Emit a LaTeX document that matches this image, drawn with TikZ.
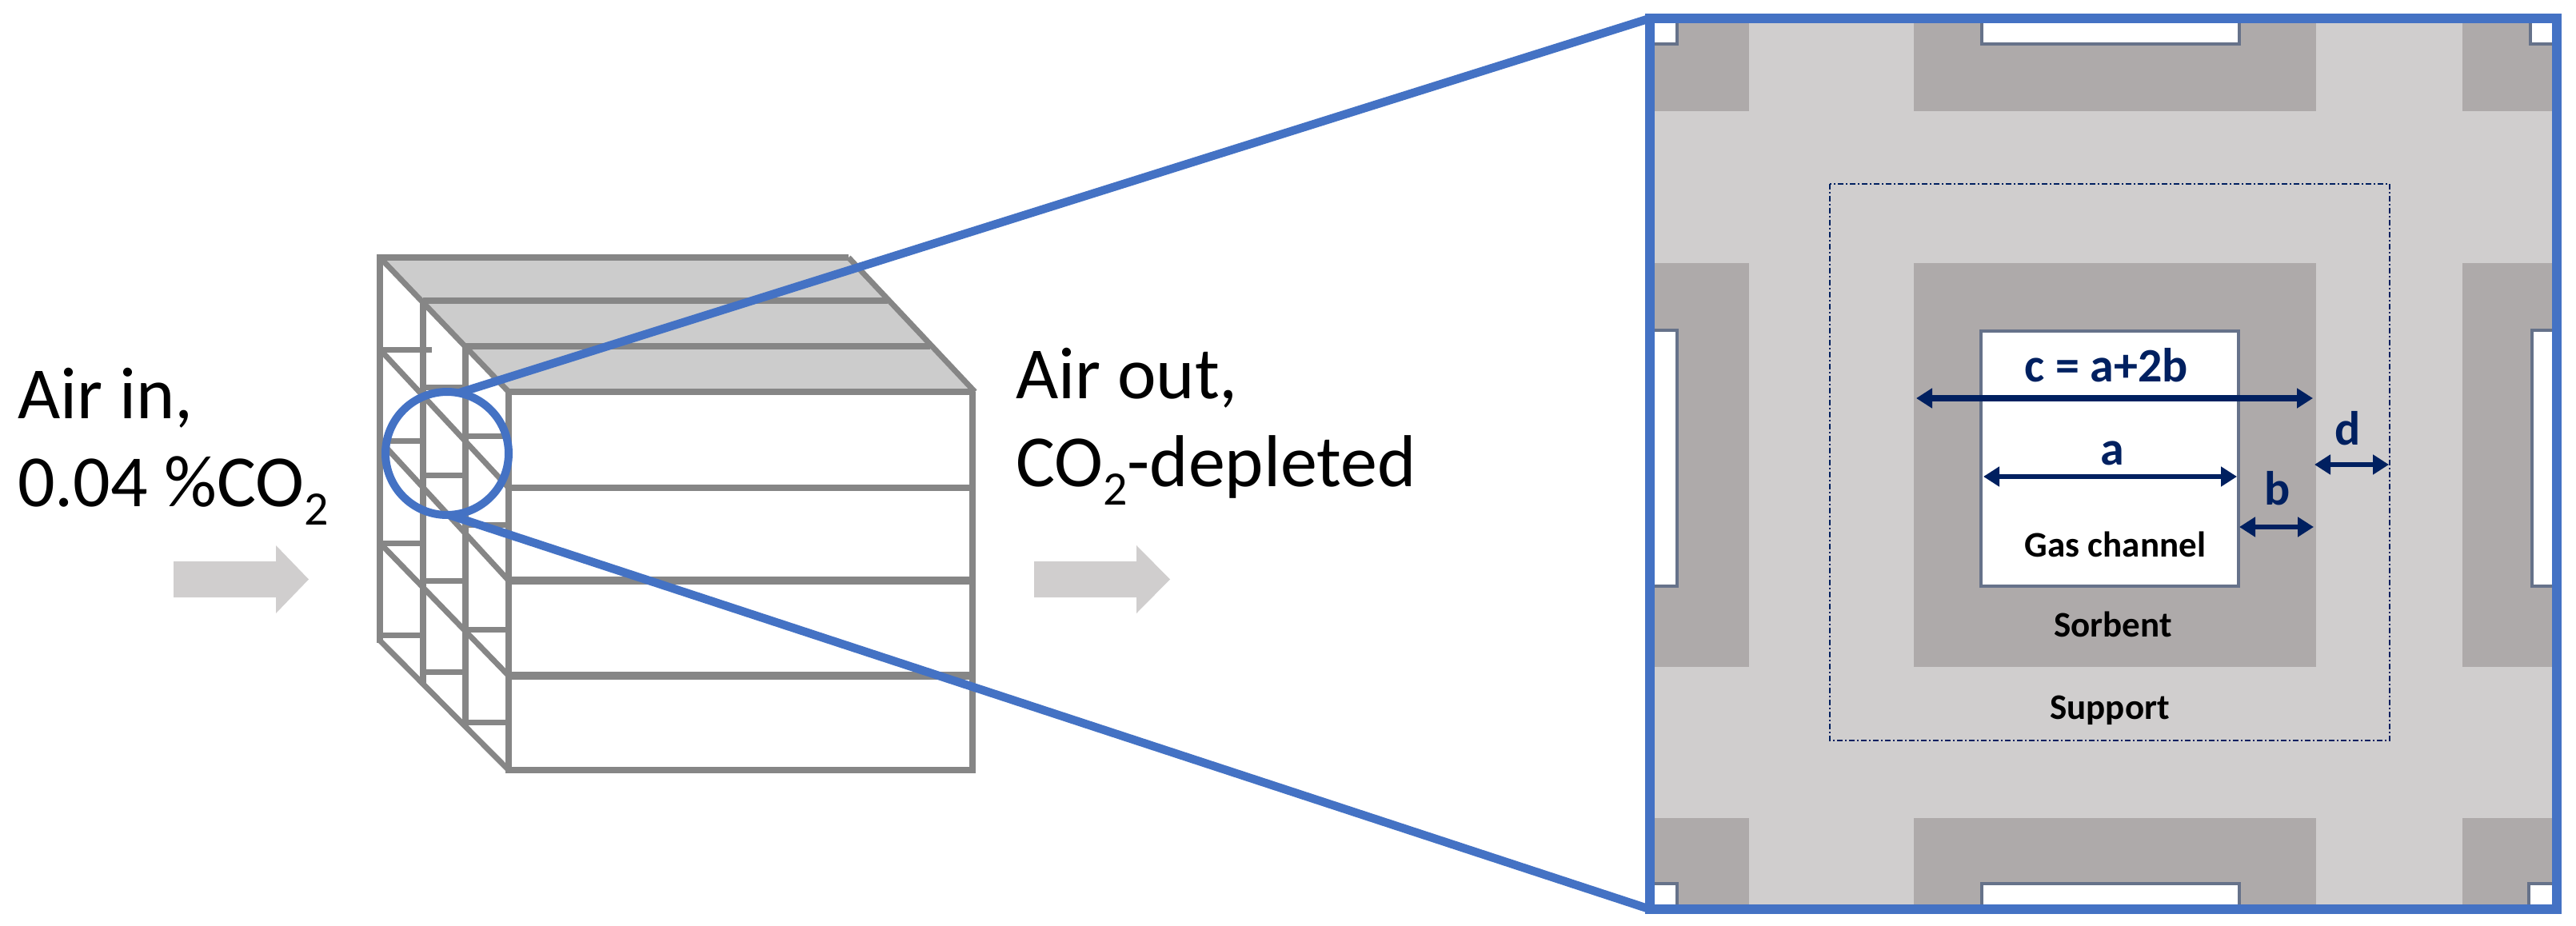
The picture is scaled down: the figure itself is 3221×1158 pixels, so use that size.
\documentclass[tikz,border=0pt]{standalone}
\usepackage{fontspec}
\setmainfont{Carlito}
\usetikzlibrary{arrows.meta,calc}
\definecolor{support}{HTML}{D0CECE}
\definecolor{sorbent}{HTML}{AEAAAA}
\definecolor{zoomblue}{HTML}{4472C4}
\definecolor{dimblue}{HTML}{002060}
\definecolor{cubeline}{HTML}{868686}
\definecolor{cubetop}{HTML}{CCCCCC}
\definecolor{chanedge}{HTML}{66728A}
\newcommand\bigsub{\raisebox{-23pt}{\fontsize{60}{60}\selectfont 2}}
\tikzset{
  big/.style={inner sep=0,outer sep=0,anchor=base west,font=\fontsize{92}{92}\selectfont,text=black},
  dimtxt/.style={inner sep=0,outer sep=0,anchor=base,font=\fontsize{60}{60}\selectfont\bfseries,text=dimblue},
  regtxt/.style={inner sep=0,outer sep=0,anchor=base,font=\fontsize{45}{45}\selectfont\bfseries,text=black},
  cube/.style={draw=cubeline,line width=8pt,line cap=butt,line join=miter},
  cubethin/.style={draw=cubeline,line width=7pt},
  sorb/.style={fill=sorbent,draw=none},
  chan/.style={fill=white,draw=chanedge,line width=4pt},
  dim/.style={draw=dimblue,{Triangle[length=20pt,width=24pt]}-{Triangle[length=20pt,width=24pt]}},
  flow/.style={fill=support,draw=none},
  zoomline/.style={draw=zoomblue,line width=10.5pt},
}
\begin{document}
\begin{tikzpicture}[x=1pt,y=-1pt]
\useasboundingbox (0,0) rectangle (3221,1158);
% ---- cube top faces
\fill[cubetop] (475,322) -- (1061,322) -- (1219,490) -- (636,490) -- cycle;
% cube long horizontals
\draw[cube] (471,322) -- (1061,322);
\draw[cube] (529,376) -- (1110,376);
\draw[cube] (582,433) -- (1163,433);
\draw[cube] (636,490) -- (1219,490);
\draw[cube] (636,610) -- (1216,610);
\draw[cube,line width=10pt] (636,726) -- (1216,726);
\draw[cube,line width=10pt] (636,845) -- (1216,845);
\draw[cube] (636,963) -- (1220,963);
% right side
\draw[cube] (1216,490) -- (1216,967);
\draw[cubethin] (1061,322) -- (1219,490);
% verticals
\draw[cube] (475,319) -- (475,804);
\draw[cube] (529,376) -- (529,857);
\draw[cube] (582,433) -- (582,910);
\draw[cube] (636,490) -- (636,967);
% diagonals
\draw[cubethin] (475,322) -- (636,490);
\draw[cubethin] (475,437) -- (636,610);
\draw[cubethin] (475,551) -- (636,726);
\draw[cubethin] (475,679) -- (636,845);
\draw[cubethin] (475,801) -- (636,963);
% short cell lines
\draw[cubethin] (472,437) -- (540,437);
\draw[cubethin] (475,551) -- (529,551);
\draw[cubethin] (475,679) -- (529,679);
\draw[cubethin] (475,794) -- (529,794);
\draw[cubethin] (529,484) -- (582,484);
\draw[cubethin] (529,594) -- (582,594);
\draw[cubethin] (529,726) -- (582,726);
\draw[cubethin] (529,840) -- (582,840);
\draw[cubethin] (582,545) -- (636,545);
\draw[cubethin] (582,656) -- (636,656);
\draw[cubethin] (582,787) -- (636,787);
\draw[cubethin] (582,903) -- (636,903);
% ---- panel
\fill[support] (2063,23) rectangle (3197,1137);
\begin{scope}
\clip (2063,23) rectangle (3197,1137);
\fill[sorb] (2050,10) rectangle (2187,139);
\fill[sorb] (2393,10) rectangle (2896,139);
\fill[sorb] (3079,10) rectangle (3210,139);
\fill[sorb] (2050,329) rectangle (2187,834);
\fill[sorb] (2393,329) rectangle (2896,834);
\fill[sorb] (3079,329) rectangle (3210,834);
\fill[sorb] (2050,1023) rectangle (2187,1150);
\fill[sorb] (2393,1023) rectangle (2896,1150);
\fill[sorb] (3079,1023) rectangle (3210,1150);
\draw[chan] (2050,10) rectangle (2097,55);
\draw[chan] (2478,10) rectangle (2800,55);
\draw[chan] (3164,10) rectangle (3210,55);
\draw[chan] (2050,413) rectangle (2097,733);
\draw[chan] (3166,413) rectangle (3210,733);
\draw[chan] (2050,1105) rectangle (2097,1150);
\draw[chan] (2478,1105) rectangle (2800,1150);
\draw[chan] (3162,1105) rectangle (3210,1150);
\end{scope}
\draw[chan] (2477,414) rectangle (2799,733);
\draw[dimblue,line width=2pt,dash pattern=on 7pt off 3pt on 2pt off 3pt] (2288,230) rectangle (2988,926);
% dimension arrows
\coordinate (cL) at (2396,498); \coordinate (cR) at (2892,498);
\coordinate (aL) at (2480,596); \coordinate (aR) at (2797,596);
\coordinate (bL) at (2800,659); \coordinate (bR) at (2893,659);
\coordinate (dL) at (2894,581); \coordinate (dR) at (2987,581);
\draw[dim,line width=8pt] (cL) -- (cR);
\draw[dim,line width=6pt] (aL) -- (aR);
\draw[dim,line width=6pt] (bL) -- (bR);
\draw[dim,line width=6pt] (dL) -- (dR);
\node[dimtxt] (lc) at (2634,477) {c = a+2b};
\node[dimtxt] (la) at (2641,581) {a};
\node[dimtxt] (lb) at (2848,631) {b};
\node[dimtxt] (ld) at (2936,556) {d};
\node[regtxt] (gas) at (2645,696) {Gas channel};
\node[regtxt] (sorbtxt) at (2642,796) {Sorbent};
\node[regtxt] (supptxt) at (2638,899) {Support};
% panel frame + zoom
\node[draw=zoomblue,line width=12pt,fill=none,inner sep=0,outer sep=0,minimum width=1134pt,minimum height=1114pt] (panel) at (2630,580) {};
\node[draw=zoomblue,line width=10pt,circle,inner sep=0,outer sep=0,minimum size=154pt] (lens) at (559,567) {};
\draw[zoomline] (lens.79) -- (panel.north west);
\draw[zoomline] (lens.272) -- (panel.south west);
% flow arrows
\fill[flow] (217,702) -- (345,702) -- (345,682) -- (386,724.5) -- (345,767) -- (345,747) -- (217,747) -- cycle;
\fill[flow] (1293,702) -- (1421,702) -- (1421,682) -- (1463,724.5) -- (1421,767) -- (1421,747) -- (1293,747) -- cycle;
% text
\node[big] (airin) at (22,523) {Air in,};
\node[big] (co2in) at (22,633) {0.04 \%CO\bigsub};
\node[big] (airout) at (1270,498) {Air out,};
\node[big] (co2out) at (1270,608) {CO\bigsub-depleted};
\end{tikzpicture}
\end{document}
